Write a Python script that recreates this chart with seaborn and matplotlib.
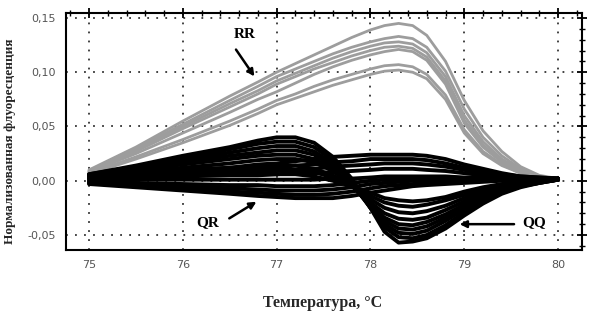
import numpy as np
import pandas as pd
import matplotlib
matplotlib.use("Agg")
import matplotlib.pyplot as plt
import seaborn as sns
from matplotlib.ticker import MultipleLocator, FuncFormatter

# Temperature grid (°C)
temps = [75.0, 75.5, 76.0, 76.5, 76.8, 77.0, 77.2, 77.4, 77.6, 77.8, 78.0,
         78.15, 78.3, 78.45, 78.6, 78.8, 79.0, 79.2, 79.4, 79.6, 79.8, 80.0]

# RR genotype curves (gray)
rr_1 = [0.010,0.031,0.055,0.078,0.091,0.100,0.108,0.116,0.124,0.132,0.139,0.143,0.145,0.143,0.134,0.110,0.074,0.046,0.027,0.013,0.005,0.002]
rr_2 = [0.009,0.030,0.052,0.074,0.087,0.096,0.103,0.110,0.117,0.123,0.128,0.131,0.133,0.131,0.123,0.101,0.066,0.040,0.023,0.011,0.004,0.002]
rr_3 = [0.009,0.028,0.050,0.071,0.083,0.092,0.099,0.106,0.113,0.119,0.124,0.127,0.128,0.126,0.118,0.096,0.060,0.036,0.020,0.010,0.004,0.002]
rr_4 = [0.008,0.027,0.048,0.068,0.080,0.089,0.096,0.103,0.109,0.115,0.120,0.123,0.124,0.122,0.114,0.092,0.056,0.033,0.018,0.009,0.004,0.002]
rr_5 = [0.008,0.025,0.044,0.063,0.075,0.082,0.090,0.098,0.105,0.111,0.116,0.119,0.121,0.119,0.111,0.089,0.053,0.031,0.017,0.008,0.003,0.002]
rr_6 = [0.007,0.022,0.038,0.055,0.066,0.074,0.080,0.087,0.093,0.098,0.103,0.106,0.107,0.105,0.098,0.079,0.047,0.027,0.015,0.007,0.003,0.002]
rr_7 = [0.006,0.020,0.035,0.051,0.062,0.070,0.076,0.082,0.088,0.093,0.098,0.101,0.102,0.100,0.094,0.075,0.044,0.025,0.014,0.007,0.003,0.002]

# QQ genotype curves (black, deep dip)
qq_1 = [0.006,0.014,0.023,0.031,0.037,0.040,0.040,0.035,0.022,0.002,-0.025,-0.047,-0.057,-0.056,-0.053,-0.044,-0.032,-0.021,-0.012,-0.006,-0.002,0.001]
qq_2 = [0.006,0.013,0.021,0.029,0.034,0.036,0.036,0.031,0.019,0.000,-0.025,-0.043,-0.052,-0.053,-0.050,-0.041,-0.029,-0.019,-0.011,-0.005,-0.002,0.001]
qq_3 = [0.005,0.012,0.019,0.026,0.030,0.032,0.032,0.027,0.016,-0.002,-0.025,-0.040,-0.048,-0.049,-0.046,-0.037,-0.026,-0.017,-0.010,-0.005,-0.002,0.001]
qq_4 = [0.005,0.011,0.017,0.023,0.026,0.028,0.028,0.024,0.013,-0.003,-0.024,-0.037,-0.044,-0.045,-0.042,-0.034,-0.024,-0.015,-0.009,-0.004,-0.001,0.001]
qq_5 = [0.005,0.010,0.015,0.020,0.023,0.024,0.024,0.020,0.011,-0.004,-0.023,-0.034,-0.040,-0.041,-0.038,-0.031,-0.022,-0.014,-0.008,-0.004,-0.001,0.001]
qq_6 = [0.004,0.008,0.012,0.016,0.019,0.020,0.020,0.017,0.009,-0.004,-0.020,-0.030,-0.035,-0.036,-0.034,-0.027,-0.019,-0.012,-0.007,-0.003,-0.001,0.001]
qq_7 = [0.004,0.007,0.010,0.012,0.013,0.014,0.014,0.011,0.005,-0.005,-0.017,-0.025,-0.029,-0.030,-0.028,-0.023,-0.016,-0.010,-0.006,-0.003,-0.001,0.001]
qq_8 = [0.003,0.005,0.007,0.009,0.010,0.010,0.010,0.008,0.003,-0.005,-0.014,-0.020,-0.023,-0.024,-0.022,-0.018,-0.013,-0.008,-0.005,-0.002,-0.001,0.001]
qq_9 = [0.003,0.004,0.005,0.006,0.006,0.006,0.006,0.004,0.000,-0.005,-0.011,-0.016,-0.018,-0.019,-0.018,-0.015,-0.010,-0.006,-0.003,-0.001,0.000,0.001]

# QR genotype curves (black, flat band)
qr_1 = [0.004,0.006,0.009,0.012,0.015,0.016,0.018,0.020,0.022,0.023,0.024,0.024,0.024,0.024,0.023,0.020,0.015,0.011,0.007,0.004,0.003,0.002]
qr_2 = [0.003,0.005,0.007,0.009,0.011,0.012,0.014,0.015,0.017,0.018,0.020,0.020,0.020,0.020,0.019,0.016,0.012,0.009,0.006,0.004,0.003,0.002]
qr_3 = [0.003,0.004,0.005,0.007,0.008,0.009,0.010,0.011,0.013,0.014,0.015,0.016,0.016,0.016,0.015,0.013,0.010,0.007,0.005,0.003,0.002,0.002]
qr_4 = [0.002,0.003,0.004,0.005,0.005,0.006,0.007,0.007,0.008,0.009,0.010,0.011,0.011,0.011,0.010,0.009,0.007,0.005,0.004,0.003,0.002,0.002]
qr_5 = [0.001,0.001,0.001,0.001,0.001,0.001,0.001,0.001,0.002,0.002,0.003,0.004,0.004,0.004,0.004,0.004,0.003,0.003,0.002,0.002,0.002,0.002]
qr_6 = [0.000,-0.002,-0.003,-0.004,-0.004,-0.005,-0.005,-0.005,-0.004,-0.002,0.000,0.001,0.001,0.002,0.002,0.002,0.002,0.002,0.002,0.002,0.002,0.002]
qr_7 = [-0.001,-0.003,-0.005,-0.007,-0.008,-0.009,-0.009,-0.009,-0.008,-0.006,-0.003,-0.002,-0.001,0.000,0.000,0.001,0.001,0.001,0.001,0.001,0.001,0.001]
qr_8 = [-0.002,-0.004,-0.007,-0.010,-0.011,-0.012,-0.013,-0.013,-0.012,-0.010,-0.007,-0.005,-0.004,-0.003,-0.002,-0.001,0.000,0.000,0.001,0.001,0.001,0.001]
qr_9 = [-0.003,-0.006,-0.009,-0.012,-0.014,-0.015,-0.016,-0.016,-0.016,-0.014,-0.011,-0.009,-0.007,-0.005,-0.004,-0.003,-0.002,-0.001,0.000,0.001,0.001,0.001]

rr_curves = [rr_1, rr_2, rr_3, rr_4, rr_5, rr_6, rr_7]
black_curves = [qq_1, qq_2, qq_3, qq_4, qq_5, qq_6, qq_7, qq_8, qq_9,
                qr_1, qr_2, qr_3, qr_4, qr_5, qr_6, qr_7, qr_8, qr_9]

x_ticks = [75, 76, 77, 78, 79, 80]
y_ticks = [-0.05, 0.00, 0.05, 0.10, 0.15]
x_label = "Температура, °C"
y_label = "Нормализованная флуоресценция"


def to_frame(curves, prefix):
    rows = []
    for i, c in enumerate(curves):
        for t, v in zip(temps, c):
            rows.append({"T": t, "F": v, "curve": f"{prefix}{i}"})
    return pd.DataFrame(rows)


df_rr = to_frame(rr_curves, "rr")
df_bk = to_frame(black_curves, "bk")

sns.set_theme(style="white")
plt.rcParams["font.family"] = ["DejaVu Sans"]
plt.rcParams["lines.solid_joinstyle"] = "round"
plt.rcParams["lines.solid_capstyle"] = "round"

fig = plt.figure(figsize=(5.93, 3.16), dpi=100)
ax = fig.add_axes([0.1113, 0.2089, 0.8702, 0.750])

ax.set_xlim(74.755, 80.255)
ax.set_ylim(-0.0638, 0.1546)

for y in y_ticks:
    ax.axhline(y, color="#333333", lw=1.3, ls=(0, (1, 4)), zorder=0)
for x in x_ticks:
    ax.axvline(x, color="#333333", lw=1.3, ls=(0, (1, 4)), zorder=0)

sns.lineplot(data=df_rr, x="T", y="F", units="curve", estimator=None,
             color="#9d9d9d", lw=2.0, ax=ax, legend=False, zorder=2)
sns.lineplot(data=df_bk, x="T", y="F", units="curve", estimator=None,
             color="black", lw=2.8, ax=ax, legend=False, zorder=3)

ax.set_xticks(x_ticks)
ax.set_yticks(y_ticks)
ax.xaxis.set_minor_locator(MultipleLocator(0.2))
ax.yaxis.set_minor_locator(MultipleLocator(0.01))
ax.yaxis.set_major_formatter(FuncFormatter(lambda v, p: f"{v:.2f}".replace(".", ",").replace("-0,00", "0,00")))
ax.xaxis.set_major_formatter(FuncFormatter(lambda v, p: f"{v:.0f}"))

ax.tick_params(axis="both", which="major", direction="inout", length=7, width=1.3,
               colors="black", labelcolor="#555555", labelsize=8, pad=4,
               top=True, right=True)
ax.tick_params(axis="both", which="minor", direction="inout", length=4, width=1.0,
               colors="black", top=True, right=True)
for s in ax.spines.values():
    s.set_color("black")
    s.set_linewidth(1.5)

ax.set_xlabel(x_label, family="Liberation Serif", fontweight="bold", fontsize=11.5)
ax.set_ylabel(y_label, family="Liberation Serif", fontweight="bold", fontsize=9.5)
ax.xaxis.set_label_coords(0.498, -0.19)
ax.yaxis.set_label_coords(-0.097, 0.46)

# Annotations
lab_kw = dict(family="Liberation Serif", fontweight="bold", fontsize=11, color="black")
arr_kw = dict(arrowstyle="-|>", color="black", lw=1.8, mutation_scale=10)
ax.text(76.66, 0.135, "RR", ha="center", va="center", **lab_kw)
ax.annotate("", xy=(76.78, 0.094), xytext=(76.55, 0.123), arrowprops=arr_kw)
ax.text(76.26, -0.0385, "QR", ha="center", va="center", **lab_kw)
ax.annotate("", xy=(76.81, -0.018), xytext=(76.47, -0.036), arrowprops=arr_kw)
ax.text(79.74, -0.0385, "QQ", ha="center", va="center", **lab_kw)
ax.annotate("", xy=(78.92, -0.040), xytext=(79.56, -0.040), arrowprops=arr_kw)

fig.savefig("out.png", dpi=100, facecolor="white")
